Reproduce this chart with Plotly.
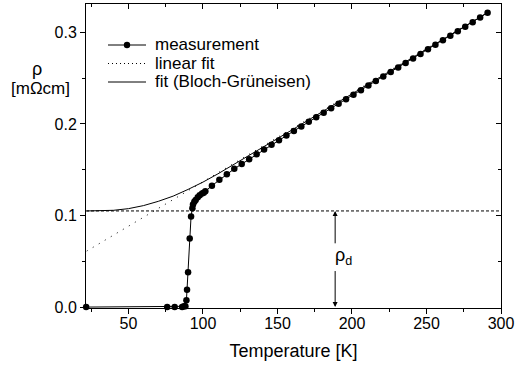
import plotly.graph_objects as go

# ---- data ----
meas_T = [21.6, 76, 81, 86, 87.2, 88.2, 88.9, 89.3, 90.0, 91.1, 92.0, 92.9, 93.3, 94.2, 95.1,
          96.5, 97.8, 99.4, 100.5, 101.6, 106, 111, 116, 121, 126, 131, 136, 141, 146, 151,
          156, 161, 166, 171, 176, 181, 186, 191, 196, 201, 206, 211, 216, 221, 226, 231,
          236, 241, 246, 251, 256, 261, 266, 271, 276, 281, 286, 291]
meas_rho = [0.0, 0.0, 0.0, 0.0, 0.0008, 0.001, 0.0076, 0.019, 0.038, 0.075, 0.099, 0.108, 0.112,
            0.115, 0.117, 0.120, 0.122, 0.124, 0.125, 0.1265, 0.1326, 0.1390, 0.1452, 0.1510,
            0.1562, 0.1615, 0.1668, 0.1720, 0.1772, 0.1823, 0.1874, 0.1924, 0.1973, 0.2023,
            0.2072, 0.2122, 0.2171, 0.2221, 0.2270, 0.2320, 0.2369, 0.2419, 0.2468, 0.2518,
            0.2567, 0.2617, 0.2666, 0.2716, 0.2765, 0.2815, 0.2864, 0.2914, 0.2963, 0.3013,
            0.3062, 0.3112, 0.3163, 0.3215]

lin_T = [22, 291]
lin_rho = [0.0612, 0.3220]

bg_T = [22, 30, 40, 50, 60, 70, 80, 90, 100, 110, 120, 130, 140, 160, 180, 200, 230, 260, 291]
bg_rho = [0.1050, 0.1051, 0.1057, 0.1075, 0.1108, 0.1155, 0.1212, 0.1285, 0.1365, 0.1455,
          0.1550, 0.1645, 0.1742, 0.1937, 0.2133, 0.2330, 0.2622, 0.2913, 0.3215]

rho0 = 0.105          # residual resistivity level
arrow_T = 188.7       # position of the rho_d arrow
x_range = [21.5, 300]
y_range = [-0.001, 0.331]

legend_labels = ["measurement", "linear fit", "fit (Bloch-Grüneisen)"]

FONT = "Liberation Sans, Arial, sans-serif"

W, H = 517, 374
L, R, T, B = 86, 16, 4, 66
PW, PH = W - L - R, H - T - B


def px_x(px):
    return (px - L) / PW


def px_y(py):
    return (H - B - py) / PH


fig = go.Figure()

fig.add_trace(go.Scatter(
    x=meas_T, y=meas_rho, mode="lines+markers", name=legend_labels[0],
    line=dict(color="black", width=1), marker=dict(color="black", size=6.5),
    cliponaxis=False, showlegend=False))
fig.add_trace(go.Scatter(
    x=lin_T, y=lin_rho, mode="lines", name=legend_labels[1], showlegend=False,
    line=dict(color="black", width=1, dash="1px,6px")))
fig.add_trace(go.Scatter(
    x=bg_T, y=bg_rho, mode="lines", name=legend_labels[2], showlegend=False,
    line=dict(color="black", width=1)))
fig.add_trace(go.Scatter(
    x=x_range, y=[rho0, rho0], mode="lines", showlegend=False,
    line=dict(color="black", width=1, dash="3px,2px"), hoverinfo="skip"))
# dummy traces for the mirrored top/right axes and the label axis
fig.add_trace(go.Scatter(x=[], y=[], xaxis="x2", yaxis="y2", showlegend=False))
fig.add_trace(go.Scatter(x=[], y=[], xaxis="x3", yaxis="y", showlegend=False))

# rho_d double arrow
fig.add_annotation(x=arrow_T, y=rho0, ax=arrow_T, ay=0.068, xref="x", yref="y",
                   axref="x", ayref="y", text="", showarrow=True,
                   arrowhead=2, arrowsize=1, arrowwidth=1, arrowcolor="black")
fig.add_annotation(x=arrow_T, y=0.0, ax=arrow_T, ay=0.041, xref="x", yref="y",
                   axref="x", ayref="y", text="", showarrow=True,
                   arrowhead=2, arrowsize=1, arrowwidth=1, arrowcolor="black")
fig.add_annotation(x=194.0, y=0.0555, xref="x", yref="y", text="ρ<sub>d</sub>",
                   showarrow=False, font=dict(size=18, color="black", family=FONT))

# y-axis title (horizontal, two lines)
fig.add_annotation(x=px_x(37), y=px_y(69), xref="paper", yref="paper", text="ρ",
                   showarrow=False, xanchor="center", yanchor="middle",
                   font=dict(size=18, color="black", family=FONT))
fig.add_annotation(x=px_x(40), y=px_y(89), xref="paper", yref="paper", text="[mΩcm]",
                   showarrow=False, xanchor="center", yanchor="middle",
                   font=dict(size=17, color="black", family=FONT))

# custom legend (compact row spacing as in the reference)
rows_y = [45, 63.5, 82]
sym_x0, sym_x1, text_x = 108, 146, 153
dashes = ["solid", "1px,3px", "solid"]
for i, lab in enumerate(legend_labels):
    yy = px_y(rows_y[i])
    fig.add_shape(type="line", xref="paper", yref="paper",
                  x0=px_x(sym_x0), x1=px_x(sym_x1), y0=yy, y1=yy,
                  line=dict(color="black", width=1, dash=dashes[i]))
    fig.add_annotation(x=px_x(text_x), y=yy, xref="paper", yref="paper", text=lab,
                       showarrow=False, xanchor="left", yanchor="middle",
                       font=dict(size=17, color="black", family=FONT))
# marker in the measurement legend entry
r = 3.2
cx, cy = (sym_x0 + sym_x1) / 2, rows_y[0]
fig.add_shape(type="circle", xref="paper", yref="paper",
              x0=px_x(cx - r), x1=px_x(cx + r), y0=px_y(cy + r), y1=px_y(cy - r),
              fillcolor="black", line=dict(color="black", width=0))

tickfont = dict(size=16, color="black", family=FONT)

fig.update_layout(
    width=W, height=H,
    margin=dict(l=L, r=R, t=T, b=B),
    paper_bgcolor="white", plot_bgcolor="white",
    font=dict(family=FONT, color="black"),
    xaxis=dict(range=x_range, ticks="outside", tick0=0, dtick=50, ticklen=5,
               tickcolor="black", showticklabels=False,
               minor=dict(dtick=25, ticklen=3, ticks="outside", tickcolor="black"),
               showline=True, linecolor="black", linewidth=1, showgrid=False, zeroline=False),
    xaxis3=dict(range=x_range, overlaying="x", side="bottom", ticks="outside", ticklen=1,
                tickcolor="rgba(0,0,0,0)", tick0=0, dtick=50, showline=False,
                showgrid=False, zeroline=False, tickfont=tickfont,
                title=dict(text="Temperature [K]", font=dict(size=18, family=FONT),
                           standoff=13)),
    yaxis=dict(range=y_range, ticks="outside", tick0=0, dtick=0.1, tickformat=".1f",
               ticklen=5, tickcolor="black", tickfont=tickfont,
               minor=dict(dtick=0.05, ticklen=3, ticks="outside", tickcolor="black"),
               showline=True, linecolor="black", linewidth=1, showgrid=False, zeroline=False),
    xaxis2=dict(range=x_range, overlaying="x", side="top", ticks="inside", tick0=0, dtick=50,
                minor=dict(dtick=25, ticklen=3, ticks="inside", tickcolor="black"),
                showticklabels=False, showline=True, linecolor="black", showgrid=False,
                zeroline=False, ticklen=5, tickcolor="black"),
    yaxis2=dict(range=y_range, overlaying="y", side="right", ticks="inside", tick0=0, dtick=0.1,
                minor=dict(dtick=0.05, ticklen=3, ticks="inside", tickcolor="black"),
                showticklabels=False, showline=True, linecolor="black", showgrid=False,
                zeroline=False, ticklen=5, tickcolor="black"),
    showlegend=False,
)

fig.write_html("out.html")
